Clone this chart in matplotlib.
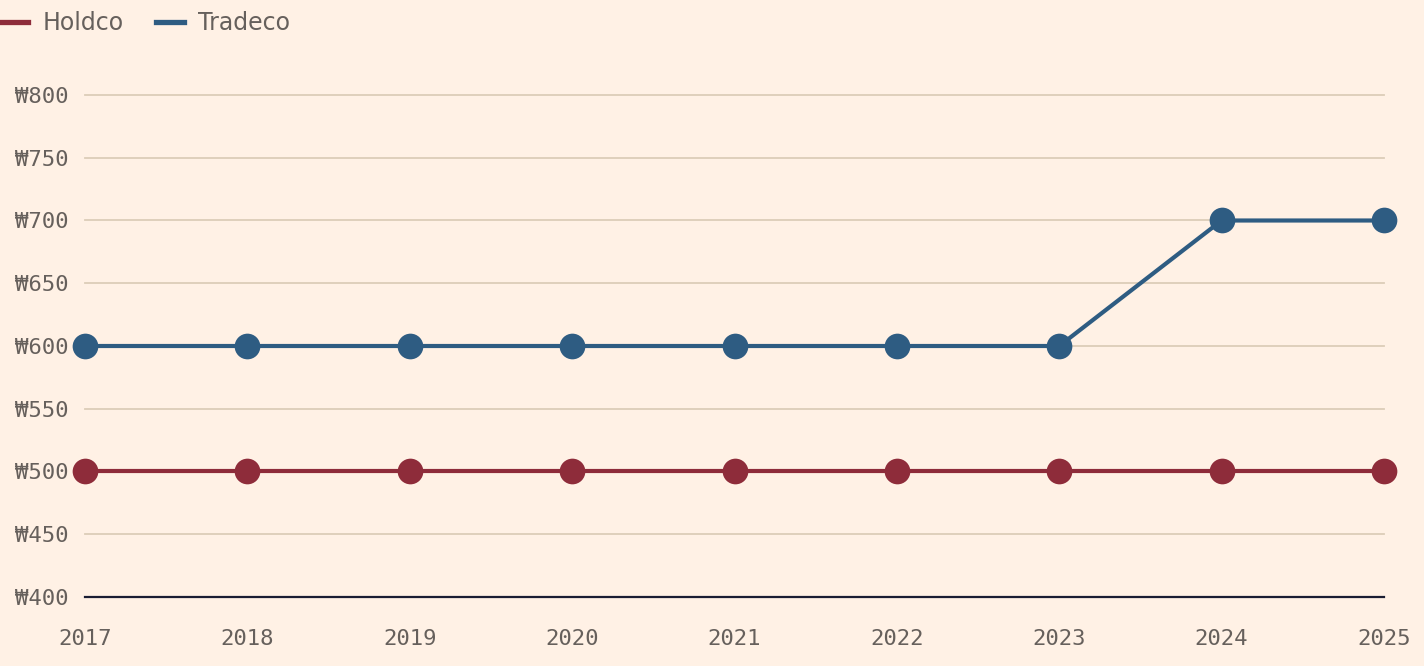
import numpy as np
import matplotlib.pyplot as plt
from matplotlib.lines import Line2D

YEARS = [2017, 2018, 2019, 2020, 2021, 2022, 2023, 2024, 2025]
HOLDCO = [500, 500, 500, 500, 500, 500, 500, 500, 500]
TRADECO = [600, 600, 600, 600, 600, 600, 600, 700, 700]
Y_TICKS = [400, 450, 500, 550, 600, 650, 700, 750, 800]

BG = '#FFF1E5'
TEXT = '#66605C'
GRID = '#DCCDB8'
RED = '#8E2C3A'
BLUE = '#2E5C82'
BASE = '#1A1D33'

fig = plt.figure(figsize=(14.24, 6.66), dpi=100, facecolor=BG)
ax = fig.add_axes([85 / 1424, 69 / 666, 1299 / 1424, 502 / 666], facecolor=BG)

for y in Y_TICKS[1:]:
    ax.axhline(y, color=GRID, lw=1.3, zorder=1, clip_on=False)
ax.axhline(Y_TICKS[0], color=BASE, lw=1.6, zorder=2, clip_on=False)

for vals, color in [(HOLDCO, RED), (TRADECO, BLUE)]:
    ax.plot(YEARS, vals, color=color, lw=3, marker='o', ms=18.5,
            markeredgewidth=0, zorder=3, clip_on=False)

ax.set_xlim(YEARS[0], YEARS[-1])
ax.set_ylim(Y_TICKS[0], Y_TICKS[-1])
ax.set_xticks(YEARS)
ax.set_yticks(Y_TICKS)
ax.set_yticklabels([f'\u20a9{v}' for v in Y_TICKS])
ax.tick_params(length=0, colors=TEXT, labelsize=16)
ax.tick_params(axis='x', pad=23)
ax.tick_params(axis='y', pad=12)
for lab in ax.get_xticklabels() + ax.get_yticklabels():
    lab.set_fontfamily('DejaVu Sans Mono')
for s in ax.spines.values():
    s.set_visible(False)

handles = [Line2D([], [], color=RED, lw=3.8), Line2D([], [], color=BLUE, lw=3.8)]
leg = fig.legend(handles, ['Holdco', 'Tradeco'], loc='upper left',
                 bbox_to_anchor=(0, 1 - 11 / 666), ncol=2, frameon=False,
                 borderaxespad=0, borderpad=0, handlelength=1.2,
                 handletextpad=0.6, columnspacing=1.35,
                 prop={'family': 'DejaVu Sans', 'size': 17})
for t in leg.get_texts():
    t.set_color(TEXT)

fig.savefig('out.png', dpi=100, facecolor=BG)
